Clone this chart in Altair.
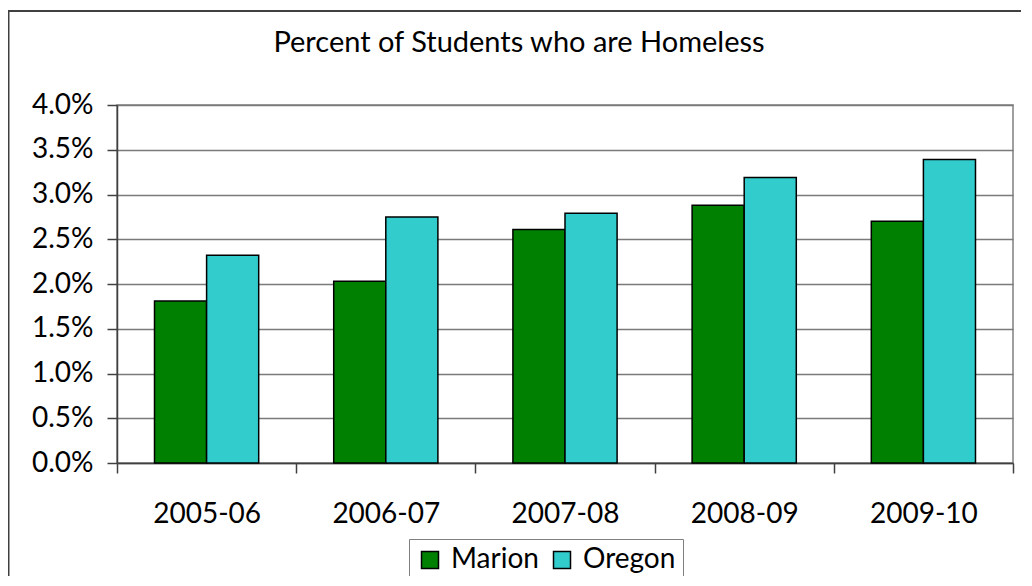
import altair as alt
import pandas as pd

years = ["2005-06", "2006-07", "2007-08", "2008-09", "2009-10"]
regions = ["Marion", "Oregon"]
marion = [0.0181, 0.0203, 0.0261, 0.0288, 0.0270]
oregon = [0.0232, 0.0275, 0.0279, 0.0319, 0.0339]
y_ticks = [0.0, 0.005, 0.01, 0.015, 0.02, 0.025, 0.03, 0.035, 0.04]
colors = ["#008000", "#33CCCC"]
title_text = "Percent of Students who are Homeless"

rows = []
for i, yr in enumerate(years):
    rows.append({"year": yr, "region": "Marion", "pct": marion[i]})
    rows.append({"year": yr, "region": "Oregon", "pct": oregon[i]})
df = pd.DataFrame(rows)

FONT = "Lato"

bars = alt.Chart(df).mark_bar(stroke="black", strokeWidth=1.5).encode(
    x=alt.X(
        "year:N", sort=years,
        scale=alt.Scale(paddingInner=0, paddingOuter=0),
        axis=alt.Axis(title=None, tickBand="extent", labelAngle=0, labelFont=FONT,
                      labelFontSize=28, labelColor="black", tickSize=10,
                      tickColor="#404040", domainColor="#404040", domainWidth=1.5,
                      tickWidth=1.5, labelPadding=27, grid=False),
    ),
    xOffset=alt.XOffset("region:N", sort=regions,
                        scale=alt.Scale(paddingOuter=0.72, paddingInner=0)),
    y=alt.Y(
        "pct:Q", scale=alt.Scale(domain=[0, 0.04]),
        axis=alt.Axis(title=None, values=y_ticks, format=".1%", labelFont=FONT,
                      labelFontSize=28, labelColor="black", tickSize=10,
                      tickColor="#404040", domainColor="#404040", domainWidth=1.5,
                      tickWidth=1.5, labelPadding=14, grid=True,
                      gridColor="#7a7a7a", gridWidth=1.4),
    ),
    color=alt.Color(
        "region:N", scale=alt.Scale(domain=regions, range=colors),
        legend=alt.Legend(orient="none", legendX=292, legendY=434,
                          direction="horizontal", title=None,
                          strokeColor="#808080", fillColor="white", padding=7,
                          symbolType="square", symbolSize=289,
                          symbolStrokeColor="black", symbolStrokeWidth=1.5,
                          labelFont=FONT, labelFontSize=28, labelColor="black",
                          labelOffset=7, columnPadding=9),
    ),
)

frame = alt.Chart(pd.DataFrame({"a": [0]})).mark_rect(
    fillOpacity=0, stroke="#404040", strokeWidth=2
).encode(
    x=alt.value(-108.5), x2=alt.value(930), y=alt.value(-94), y2=alt.value(500)
)

title = alt.Chart(pd.DataFrame({"t": [title_text]})).mark_text(
    font=FONT, fontSize=29, color="black", align="center", baseline="alphabetic"
).encode(text="t:N", x=alt.value(402), y=alt.value(-53))

chart = alt.layer(frame, bars, title).properties(
    width=896, height=358,
    padding={"left": 109, "top": 97, "right": 8, "bottom": 113},
    autosize="none",
).configure_view(stroke="#808080", strokeWidth=1.5)

chart.save("out.html", embed_options={"renderer": "svg", "actions": False})
